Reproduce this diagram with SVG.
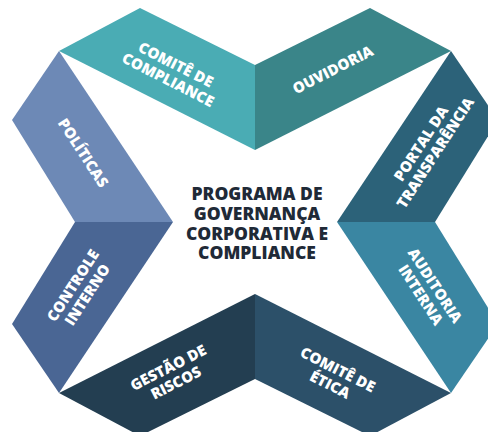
<svg xmlns="http://www.w3.org/2000/svg" width="488" height="432" viewBox="0 0 488 432">
<style>
.lbl{font-family:"Open Sans","Liberation Sans",sans-serif;font-weight:800;font-size:15px;fill:#ffffff;text-anchor:middle}
.ctr{font-family:"Open Sans","Liberation Sans",sans-serif;font-weight:800;font-size:17.5px;fill:#1f2a37;text-anchor:middle}
</style>
<rect width="488" height="432" fill="#ffffff"/>
<g id="comite-compliance">
<polygon points="59,51 140,8 255,65 255,150" fill="#4aacb4"/>
<g transform="translate(172,72) rotate(27)"><text class="lbl" y="-3">COMITÊ DE</text><text class="lbl" y="14">COMPLIANCE</text></g>
</g>
<g id="ouvidoria">
<polygon points="255,65 370,8 451,51 255,150" fill="#3a8589"/>
<g transform="translate(333,70) rotate(-27)"><text class="lbl" y="5">OUVIDORIA</text></g>
</g>
<g id="politicas">
<polygon points="59,51 173,222 75,222 12,120" fill="#6d89b6"/>
<g transform="translate(83,153) rotate(57)"><text class="lbl" y="5">POLÍTICAS</text></g>
</g>
<g id="controle-interno">
<polygon points="75,222 173,222 59,393 12,324" fill="#4a6694"/>
<g transform="translate(80,290) rotate(-57)"><text class="lbl" y="-3">CONTROLE</text><text class="lbl" y="14">INTERNO</text></g>
</g>
<g id="gestao-riscos">
<polygon points="59,393 255,294 255,379 140,436" fill="#233e51"/>
<g transform="translate(172,375) rotate(-27)"><text class="lbl" y="-3">GESTÃO DE</text><text class="lbl" y="14">RISCOS</text></g>
</g>
<g id="comite-etica">
<polygon points="255,294 451,393 370,436 255,379" fill="#2c5069"/>
<g transform="translate(334,377) rotate(27)"><text class="lbl" y="-3">COMITÊ DE</text><text class="lbl" y="14">ÉTICA</text></g>
</g>
<g id="portal-transparencia">
<polygon points="451,51 498,120 435,222 337,222" fill="#2c6279"/>
<g transform="translate(428,148) rotate(-57)"><text class="lbl" y="-3">PORTAL DA</text><text class="lbl" y="14">TRANSPARÊNCIA</text></g>
</g>
<g id="auditoria-interna">
<polygon points="337,222 435,222 498,324 451,393" fill="#3a86a2"/>
<g transform="translate(428,290) rotate(57)"><text class="lbl" y="-3">AUDITORIA</text><text class="lbl" y="14">INTERNA</text></g>
</g>
<g id="centro">
<text class="ctr" x="257" y="199.5">PROGRAMA DE</text>
<text class="ctr" x="257" y="219.5">GOVERNANÇA</text>
<text class="ctr" x="257" y="239.5">CORPORATIVA E</text>
<text class="ctr" x="257" y="259">COMPLIANCE</text>
</g>
<g id="connectors"/>
</svg>
